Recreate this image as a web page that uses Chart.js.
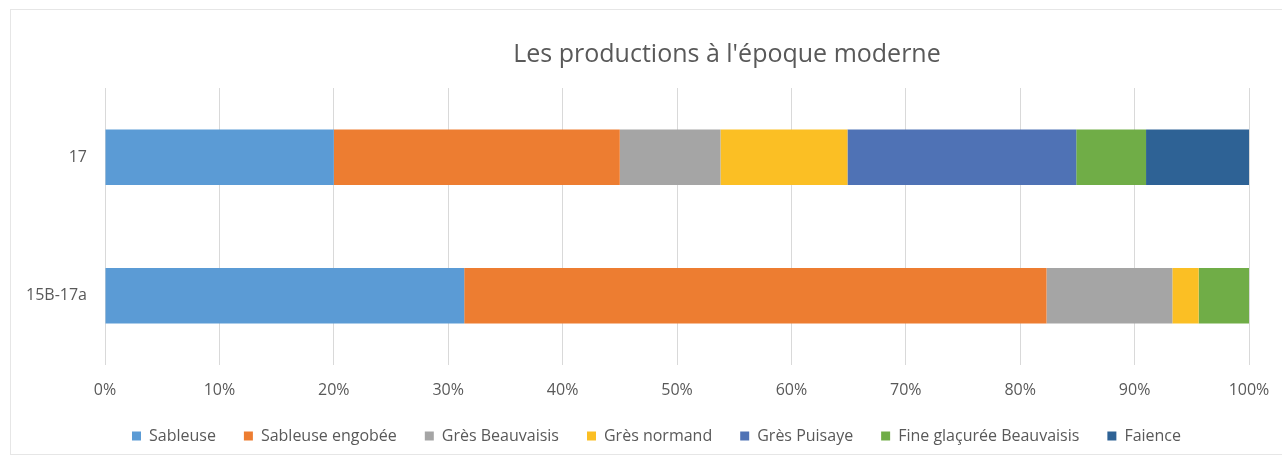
<!DOCTYPE html>
<html lang="fr">
<head>
<meta charset="utf-8">
<title>Les productions à l'époque moderne</title>
<script src="https://cdn.jsdelivr.net/npm/chart.js@4/dist/chart.umd.min.js"></script>
<style>
  html, body { margin: 0; padding: 0; background: #fff; overflow: hidden; }
  #wrap { position: relative; width: 1282px; height: 457px; overflow: hidden; }
  #frame { position: absolute; left: 10px; top: 9px; width: 1300px; height: 446px;
           border: 1px solid #e6e6e6; box-sizing: border-box; }
  #box { position: absolute; left: 0; top: 0; width: 1282px; height: 454px; }
</style>
</head>
<body>
<div id="wrap">
  <div id="frame"></div>
  <div id="box"><canvas id="chart"></canvas></div>
</div>
<script>
// Périodes (axe vertical) et catégories de production
const periodes = ['17', '15B-17a'];
const productions = ['Sableuse', 'Sableuse engobée', 'Grès Beauvaisis', 'Grès normand',
                     'Grès Puisaye', 'Fine glaçurée Beauvaisis', 'Faience'];
const couleurs = ['#5b9bd5', '#ed7d31', '#a5a5a5', '#fbbf24', '#4f72b5', '#70ad47', '#2e6295'];

// Parts en % pour chaque production, dans l'ordre des périodes
const sableuse       = [20, 31.4];
const sableuseEngob  = [25, 50.9];
const gresBeauvaisis = [8.8, 11.0];
const gresNormand    = [11.1, 2.3];
const gresPuisaye    = [20, 0];
const fineGlacuree   = [6.1, 4.4];
const faience        = [9, 0];

const xTicks = [0, 10, 20, 30, 40, 50, 60, 70, 80, 90, 100];

const series = [sableuse, sableuseEngob, gresBeauvaisis, gresNormand,
                gresPuisaye, fineGlacuree, faience];

const grey = '#595959';
const police = "'Open Sans', sans-serif";

// décale titre et légende (Chart.js les centre sur toute la largeur)
const recentrer = {
  id: 'recentrer',
  afterLayout(chart) {
    const t = chart.titleBlock;
    const dt = 727 - (t.left + t.right) / 2;
    t.left += dt; t.right += dt;
    const l = chart.legend;
    l.left += 27; l.right += 27;
  }
};

new Chart(document.getElementById('chart'), {
  type: 'bar',
  data: {
    labels: periodes,
    datasets: productions.map((nom, i) => ({
      label: nom,
      data: series[i],
      backgroundColor: couleurs[i],
      borderWidth: 0,
      barPercentage: 0.4,
      categoryPercentage: 1
    }))
  },
  options: {
    indexAxis: 'y',
    responsive: true,
    maintainAspectRatio: false,
    animation: false,
    layout: { padding: { left: 10, right: 33, top: 0, bottom: 0 } },
    scales: {
      x: {
        stacked: true,
        min: 0,
        max: 100,
        afterBuildTicks(scale) { scale.ticks = xTicks.map(v => ({ value: v })); },
        afterFit(scale) {
          scale.height = 35;
          // le libellé 100% tient dans la marge droite
          scale.paddingLeft = 0;
          scale.paddingRight = 0;
        },
        grid: { color: '#d9d9d9', lineWidth: 1, drawTicks: false },
        border: { display: false },
        ticks: {
          color: grey,
          padding: 16,
          font: { family: police, size: 16 },
          callback: v => v + '%'
        }
      },
      y: {
        stacked: true,
        afterFit(scale) { scale.width = 95; },
        grid: { display: false },
        border: { display: false },
        ticks: {
          color: grey,
          padding: 10,
          font: { family: police, size: 16 }
        }
      }
    },
    plugins: {
      title: {
        display: true,
        text: "Les productions à l'époque moderne",
        color: grey,
        font: { family: police, size: 25, weight: 'normal' },
        padding: { top: 40, bottom: 18 }
      },
      legend: {
        position: 'bottom',
        labels: {
          color: grey,
          boxWidth: 9,
          boxHeight: 9,
          padding: 28,
          font: { family: police, size: 16 }
        }
      },
      tooltip: { enabled: false }
    }
  },
  plugins: [recentrer]
});
</script>
</body>
</html>
